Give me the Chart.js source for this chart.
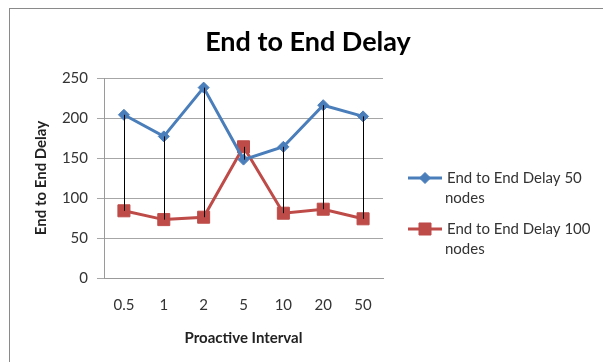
<!DOCTYPE html>
<html>
<head>
<meta charset="utf-8">
<title>End to End Delay</title>
<script src="https://cdn.jsdelivr.net/npm/chart.js@4.4.1/dist/chart.umd.min.js"></script>
<style>
  html, body { margin: 0; padding: 0; background: #ffffff; }
  canvas { display: block; }
</style>
</head>
<body>
<canvas id="chart" width="603" height="362"></canvas>
<script>
// Proactive interval categories and measured end-to-end delay per network size
const intervals = ['0.5', '1', '2', '5', '10', '20', '50'];
const delay50Nodes = [204, 177, 238, 148, 164, 216, 202];
const delay100Nodes = [84, 73, 76, 164, 81, 86, 74];
const yTicks = [0, 50, 100, 150, 200, 250];

const chartTitle = 'End to End Delay';
const seriesNames = [
  ['End to End Delay 50', 'nodes'],
  ['End to End Delay 100', 'nodes']
];

const BLUE = '#4A7EBB';
const RED = '#BE4B48';
const FONT = 'Lato, "Open Sans", sans-serif';

// White background, outer frame and the chart heading
const framePlugin = {
  id: 'frame',
  beforeDraw(chart) {
    const ctx = chart.ctx;
    ctx.save();
    ctx.fillStyle = '#ffffff';
    ctx.fillRect(0, 0, chart.width, chart.height);
    ctx.strokeStyle = '#8a8a8a';
    ctx.lineWidth = 1;
    ctx.strokeRect(9.5, 8.5, chart.width + 10, chart.height + 10);
    ctx.fillStyle = '#000000';
    ctx.font = 'bold 27px ' + FONT;
    ctx.textAlign = 'center';
    ctx.textBaseline = 'middle';
    ctx.fillText(chartTitle, 308, 42);
    ctx.restore();
  }
};

// Thin vertical high-low lines joining the two series at each category
const highLowPlugin = {
  id: 'highLow',
  afterDatasetsDraw(chart) {
    const a = chart.getDatasetMeta(0).data;
    const b = chart.getDatasetMeta(1).data;
    const ctx = chart.ctx;
    ctx.save();
    ctx.strokeStyle = '#000000';
    ctx.lineWidth = 1;
    for (let i = 0; i < a.length; i++) {
      const x = Math.round(a[i].x) + 0.5;
      ctx.beginPath();
      ctx.moveTo(x, a[i].y);
      ctx.lineTo(x, b[i].y);
      ctx.stroke();
    }
    ctx.restore();
  }
};

// Legend to the right of the plot with wrapped series names
const sideLegendPlugin = {
  id: 'sideLegend',
  afterDraw(chart) {
    const ctx = chart.ctx;
    const x0 = 408, x1 = 442, textX = 447, wrapX = 445;
    const rows = [178, 229];
    ctx.save();
    chart.data.datasets.forEach((ds, i) => {
      const y = rows[i];
      ctx.strokeStyle = ds.borderColor;
      ctx.fillStyle = ds.backgroundColor;
      ctx.lineWidth = 3;
      ctx.beginPath();
      ctx.moveTo(x0, y);
      ctx.lineTo(x1, y);
      ctx.stroke();
      ctx.lineWidth = 1;
      Chart.helpers.drawPoint(ctx, {
        pointStyle: ds.pointStyle,
        radius: ds.pointRadius,
        borderWidth: 1
      }, (x0 + x1) / 2, y);
      ctx.fillStyle = '#333333';
      ctx.font = '15px ' + FONT;
      ctx.textBaseline = 'middle';
      ctx.textAlign = 'left';
      ctx.fillText(seriesNames[i][0], textX, y);
      ctx.fillText(seriesNames[i][1], wrapX, y + 20);
    });
    ctx.restore();
  }
};

new Chart(document.getElementById('chart'), {
  type: 'line',
  data: {
    labels: intervals,
    datasets: [
      {
        label: seriesNames[0].join(' '),
        data: delay50Nodes,
        borderColor: BLUE,
        backgroundColor: BLUE,
        borderWidth: 3,
        pointStyle: 'rectRot',
        pointRadius: 5.5,
        pointBorderWidth: 1,
        tension: 0
      },
      {
        label: seriesNames[1].join(' '),
        data: delay100Nodes,
        borderColor: RED,
        backgroundColor: RED,
        borderWidth: 3,
        pointStyle: 'rect',
        pointRadius: 8.5,
        pointBorderWidth: 1,
        tension: 0
      }
    ]
  },
  options: {
    responsive: false,
    animation: false,
    events: [],
    layout: { padding: { left: 32, right: 220, top: 78, bottom: 15 } },
    plugins: {
      legend: { display: false },
      tooltip: { enabled: false },
      title: { display: false }
    },
    scales: {
      x: {
        offset: true,
        grid: { display: false, drawTicks: false },
        border: { display: true, color: '#9a9a9a', width: 1 },
        ticks: { color: '#333333', padding: 18, font: { family: FONT, size: 15 } },
        title: {
          display: true,
          text: 'Proactive Interval',
          color: '#222222',
          font: { family: FONT, size: 15, weight: 'bold', lineHeight: 1.2 },
          padding: 0
        },
        afterFit(scale) { scale.height = 69; }
      },
      y: {
        min: 0,
        max: 250,
        afterBuildTicks(scale) { scale.ticks = yTicks.map(v => ({ value: v })); },
        grid: { color: '#a6a6a6', lineWidth: 1, tickLength: 7 },
        border: { display: true, color: '#9a9a9a', width: 1 },
        ticks: { color: '#333333', padding: 9, font: { family: FONT, size: 15 } },
        title: {
          display: true,
          text: 'End to End Delay',
          color: '#222222',
          font: { family: FONT, size: 15, weight: 'bold', lineHeight: 1.2 },
          padding: 0
        },
        afterFit(scale) { scale.width = 72; }
      }
    }
  },
  plugins: [framePlugin, highLowPlugin, sideLegendPlugin]
});
</script>
</body>
</html>
